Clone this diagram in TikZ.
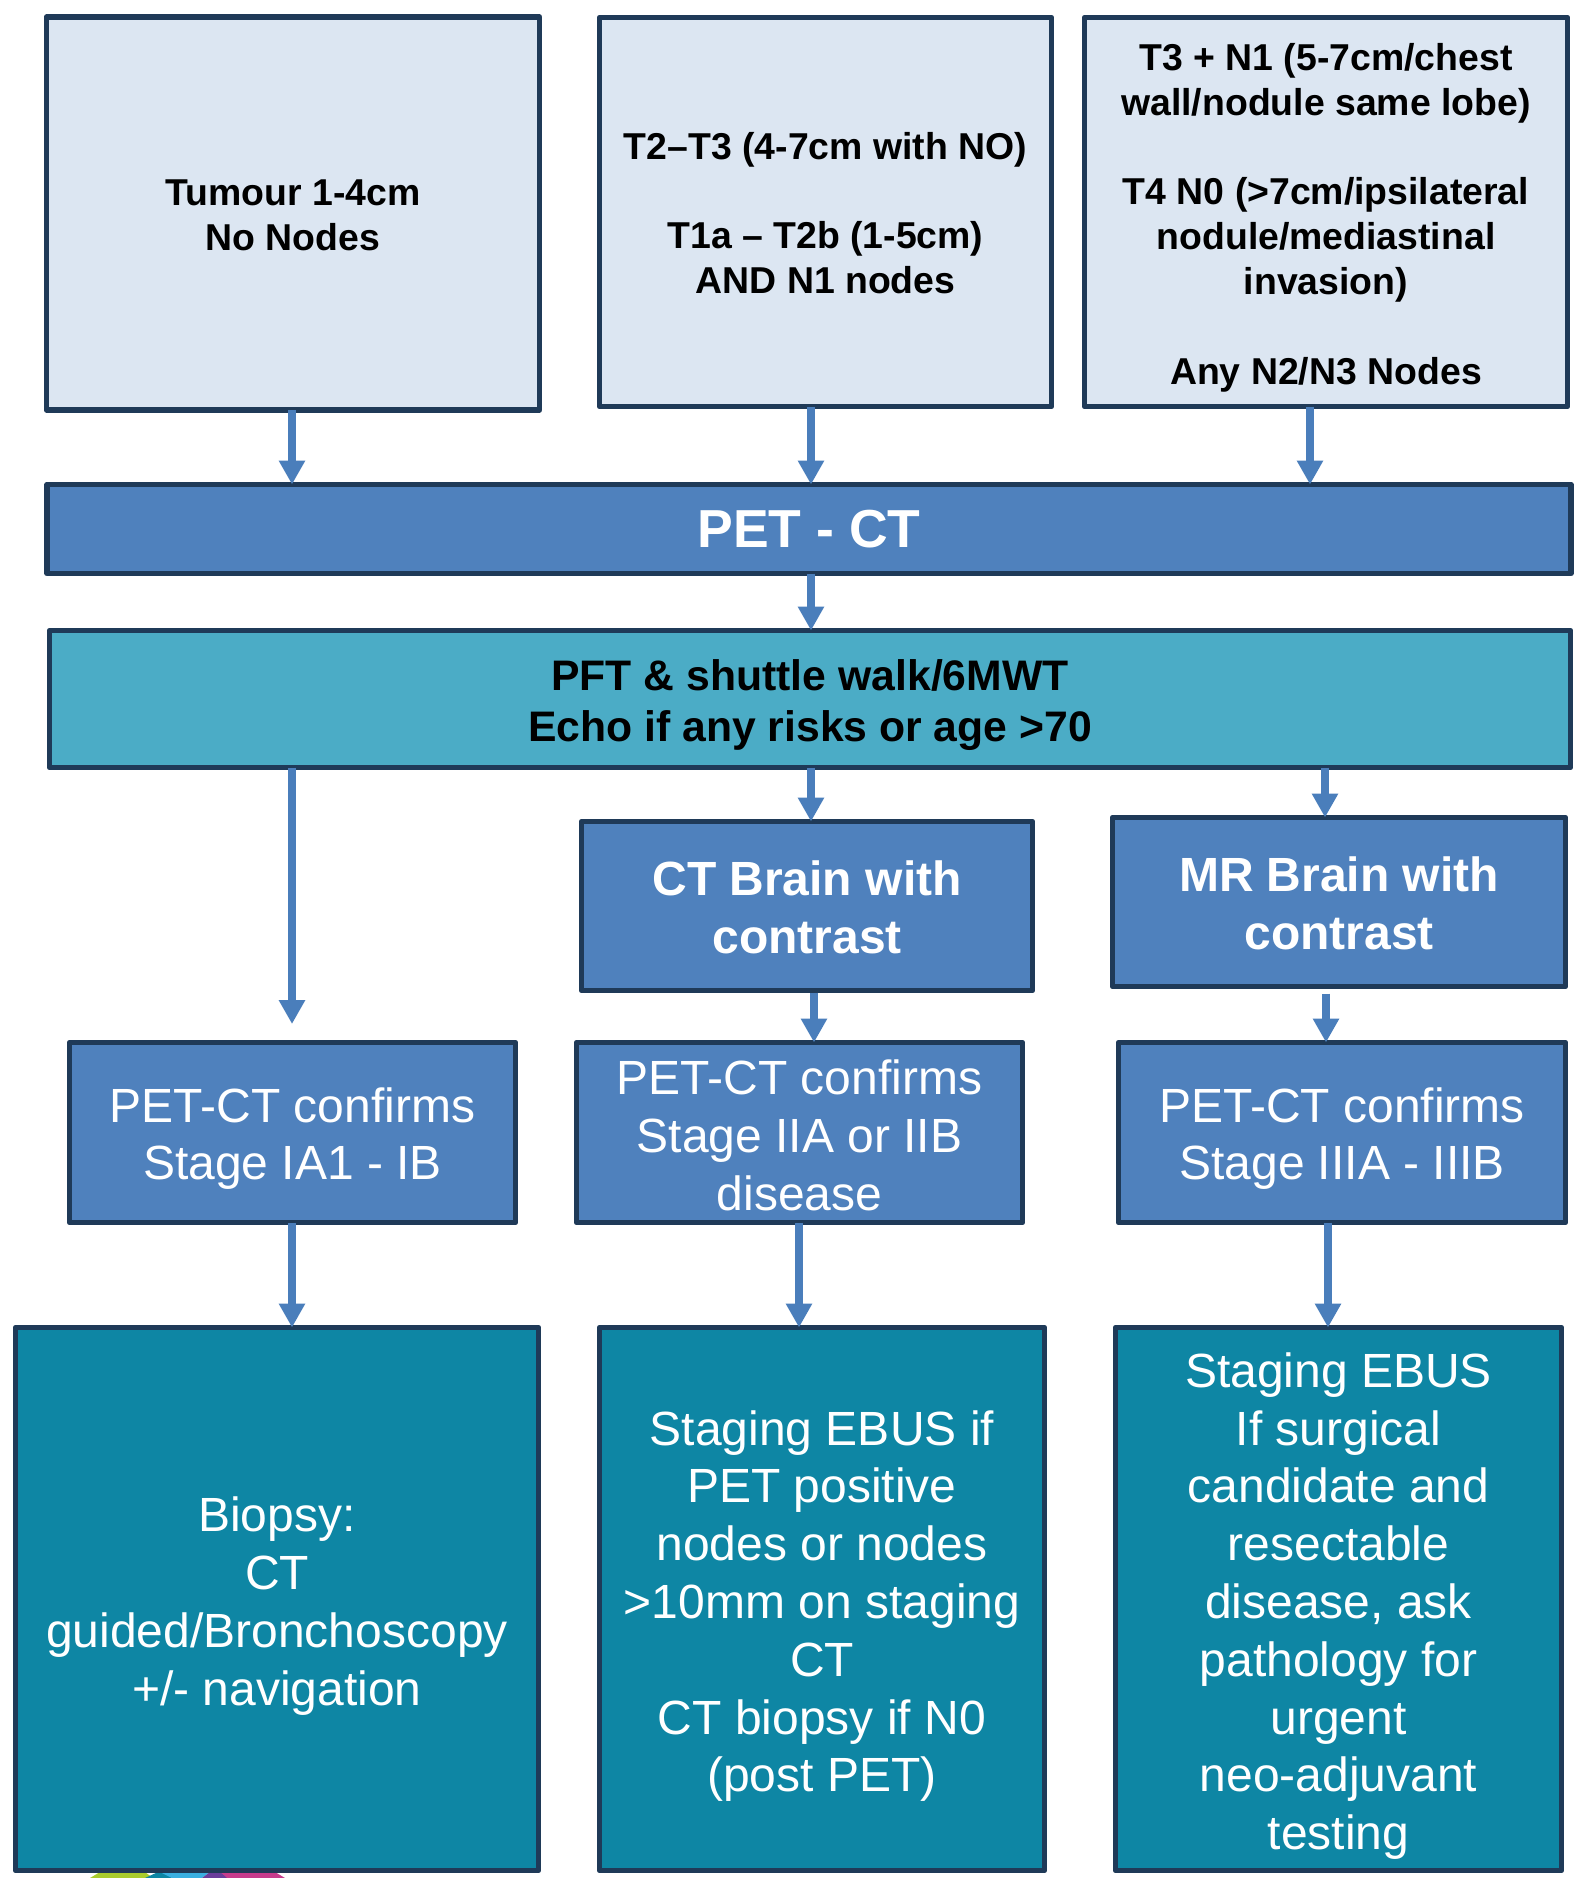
\documentclass[tikz,border=0pt]{standalone}
\usepackage{fontspec}
\setmainfont{Liberation Sans}
\usetikzlibrary{arrows.meta}
\definecolor{lightfill}{HTML}{DCE6F2}
\definecolor{edgeblue}{HTML}{1F3A58}
\definecolor{midblue}{HTML}{4F81BD}
\definecolor{pftteal}{HTML}{4BACC6}
\definecolor{deepteal}{HTML}{0E86A4}
\definecolor{arrowblue}{HTML}{4A7EBB}
\newcommand{\topgap}[1]{\rule{0pt}{#1pt}}
\tikzset{
  basebox/.style={draw=edgeblue,line width=5.5pt,line join=round,inner sep=0pt,outer sep=0pt,align=center},
  lightbox/.style={basebox,fill=lightfill,text=black,font=\fontsize{37.4}{44.8}\selectfont\bfseries},
  bluebox/.style={basebox,fill=midblue,text=white,font=\fontsize{48}{57.8}\selectfont},
  bluebold/.style={basebox,fill=midblue,text=white,font=\fontsize{48}{58}\selectfont\bfseries},
  petbox/.style={basebox,fill=midblue,text=white,font=\fontsize{53.5}{64}\selectfont\bfseries},
  pftbox/.style={basebox,fill=pftteal,text=black,font=\fontsize{42.7}{51.5}\selectfont\bfseries},
  tealbox/.style={basebox,fill=deepteal,text=white,font=\fontsize{48}{57.8}\selectfont},
  link/.style={draw=arrowblue,line width=8pt,-{Triangle[length=24pt,width=25pt,fill=arrowblue]}},
}
\begin{document}
\begin{tikzpicture}[x=1pt,y=-1pt]
\useasboundingbox (0,0) rectangle (1583,1878);
% partly hidden logo below the last row
\fill[fill={rgb,255:red,169;green,204;blue,46}] (90,1878) -- (100,1872) -- (145,1872) -- (153,1878) -- cycle;
\fill[fill=deepteal] (145,1878) -- (158,1872) -- (165,1872) -- (172,1878) -- cycle;
\fill[fill={rgb,255:red,58;green,175;blue,224}] (172,1878) -- (160,1872) -- (210,1872) -- (202,1878) -- cycle;
\fill[fill={rgb,255:red,198;green,60;blue,140}] (220,1878) -- (215,1872) -- (275,1872) -- (285,1878) -- cycle;
\fill[fill={rgb,255:red,106;green,61;blue,154}] (202,1878) -- (210,1872) -- (220,1872) -- (227,1878) -- cycle;

\node[lightbox,minimum width=493pt,minimum height=393pt] (b1) at (293,213.5) {\topgap{29}Tumour 1-4cm\\No Nodes};
\node[lightbox,minimum width=452pt,minimum height=389pt] (b2) at (825.5,212) {\topgap{29}T2–T3 (4-7cm with NO)\\[44.8pt]T1a – T2b (1-5cm)\\AND N1 nodes};
\node[lightbox,minimum width=483pt,minimum height=389pt] (b3) at (1326,212) {\topgap{38.5}T3 + N1 (5-7cm/chest\\wall/nodule same lobe)\\[44.8pt]T4 N0 (>7cm/ipsilateral\\nodule/mediastinal\\invasion)\\[44.8pt]Any N2/N3 Nodes};
\node[petbox,minimum width=1524pt,minimum height=89pt] (pet) at (809,529) {PET - CT};
\node[pftbox,minimum width=1521pt,minimum height=137pt] (pft) at (810,699) {\topgap{43.5}PFT \& shuttle walk/6MWT\\Echo if any risks or age >70};
\node[bluebold,minimum width=451pt,minimum height=169pt] (ctb) at (807,906) {\topgap{37}CT Brain with\\contrast};
\node[bluebold,minimum width=453pt,minimum height=169pt] (mrb) at (1339,902) {\topgap{37}MR Brain with\\contrast};
\node[bluebox,minimum width=446pt,minimum height=180pt] (c1) at (292.5,1132.5) {\topgap{47}PET-CT confirms\\Stage IA1 - IB};
\node[bluebox,minimum width=446pt,minimum height=180pt] (c2) at (799.5,1132.5) {\topgap{40}PET-CT confirms\\Stage IIA or IIB\\disease};
\node[bluebox,minimum width=447pt,minimum height=180pt] (c3) at (1342,1132.5) {\topgap{47}PET-CT confirms\\Stage IIIA - IIIB};
\node[tealbox,minimum width=523pt,minimum height=543pt] (d1) at (277,1599) {\topgap{49}Biopsy:\\CT\\guided/Bronchoscopy\\+/- navigation};
\node[tealbox,minimum width=445pt,minimum height=543pt] (d2) at (822,1599) {\topgap{49}Staging EBUS if\\PET positive\\nodes or nodes\\>10mm on staging\\CT\\CT biopsy if N0\\(post PET)};
\node[tealbox,minimum width=446pt,minimum height=543pt] (d3) at (1338.5,1599) {\topgap{49}Staging EBUS\\If surgical\\candidate and\\resectable\\disease, ask\\pathology for\\urgent\\neo-adjuvant\\testing};

\coordinate (xa) at (292,0);
\coordinate (xb) at (811,0);
\coordinate (xc) at (1310,0);
\coordinate (xd) at (1325,0);
\coordinate (xe) at (814,0);
\coordinate (xf) at (1326,0);
\coordinate (xg) at (799,0);
\coordinate (xh) at (1328,0);
\coordinate (freeend) at (292,1024);

\draw[link] (b1.south -| xa) -- (pet.north -| xa);
\draw[link] (b2.south -| xb) -- (pet.north -| xb);
\draw[link] (b3.south -| xc) -- (pet.north -| xc);
\draw[link] (pet.south -| xb) -- (pft.north -| xb);
\draw[link] (pft.south -| xa) -- (freeend);
\draw[link] (pft.south -| xb) -- (ctb.north -| xb);
\draw[link] (pft.south -| xd) -- (mrb.north -| xd);
\draw[link] ([yshift=-2pt]ctb.south -| xe) -- (c2.north -| xe);
\draw[link] ([yshift=-7pt]mrb.south -| xf) -- (c3.north -| xf);
\draw[link] (c1.south -| xa) -- (d1.north -| xa);
\draw[link] (c2.south -| xg) -- (d2.north -| xg);
\draw[link] (c3.south -| xh) -- (d3.north -| xh);
\end{tikzpicture}
\end{document}
